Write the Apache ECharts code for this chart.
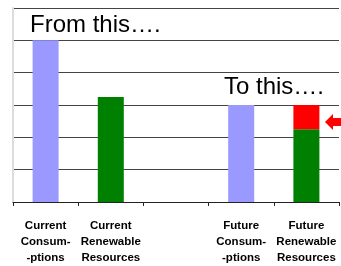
<!DOCTYPE html>
<html>
<head>
<meta charset="utf-8">
<script src="https://cdn.jsdelivr.net/npm/echarts@6/dist/echarts.min.js"></script>
<style>
  html, body { margin: 0; padding: 0; background: #fff; }
  #chart { width: 341px; height: 266px; }
</style>
</head>
<body>
<div id="chart"></div>
<script>
    // categories (third slot is an empty gap)
    var categories = ['Current\nConsum-\n-ptions', 'Current\nRenewable\nResources', '', 'Future\nConsum-\n-ptions', 'Future\nRenewable\nResources'];
    var consumption = [5, '-', '-', 3, '-'];
    var renewable = ['-', 3.25, '-', '-', 2.25];
    var shortfall = ['-', '-', '-', '-', 0.75];

    var myChart = echarts.init(document.getElementById('chart'));
    var option = {
        animation: false,
        grid: {left: 13, right: 2, top: 8, bottom: 60},
        xAxis: {
            type: 'category',
            data: categories,
            axisLine: {lineStyle: {color: '#222', width: 1}},
            axisTick: {show: true, length: 4, lineStyle: {color: '#222'}},
            axisLabel: {
                interval: 0,
                margin: 16,
                color: '#000',
                fontFamily: 'Liberation Sans',
                fontWeight: 'bold',
                fontSize: 11.5,
                lineHeight: 16
            }
        },
        yAxis: {
            type: 'value',
            min: 0,
            max: 6,
            interval: 1,
            axisLabel: {show: false},
            axisTick: {show: false},
            axisLine: {show: true, lineStyle: {color: '#ddd', width: 2}},
            splitLine: {lineStyle: {color: '#444', width: 1}}
        },
        series: [
            {
                name: 'Consumption',
                type: 'bar',
                stack: 'all',
                barWidth: 26,
                data: consumption,
                itemStyle: {color: '#9999ff'}
            },
            {
                name: 'Renewable',
                type: 'bar',
                stack: 'all',
                barWidth: 26,
                data: renewable,
                itemStyle: {color: '#008000'}
            },
            {
                name: 'Shortfall',
                type: 'bar',
                stack: 'all',
                barWidth: 24,
                data: shortfall,
                itemStyle: {color: '#ff0000'}
            }
        ],
        graphic: [
            {
                type: 'text',
                left: 30,
                top: 13,
                style: {text: 'From this….', font: '24px "Liberation Sans"', fill: '#000'}
            },
            {
                type: 'text',
                left: 224,
                top: 75,
                style: {text: 'To this….', font: '24px "Liberation Sans"', fill: '#000'}
            },
            {
                type: 'polygon',
                shape: {points: [[325, 122], [333, 114], [333, 118], [341, 118], [341, 126], [333, 126], [333, 130]]},
                style: {fill: '#ff0000'}
            }
        ]
    };

    myChart.setOption(option);
</script>
</body>
</html>
